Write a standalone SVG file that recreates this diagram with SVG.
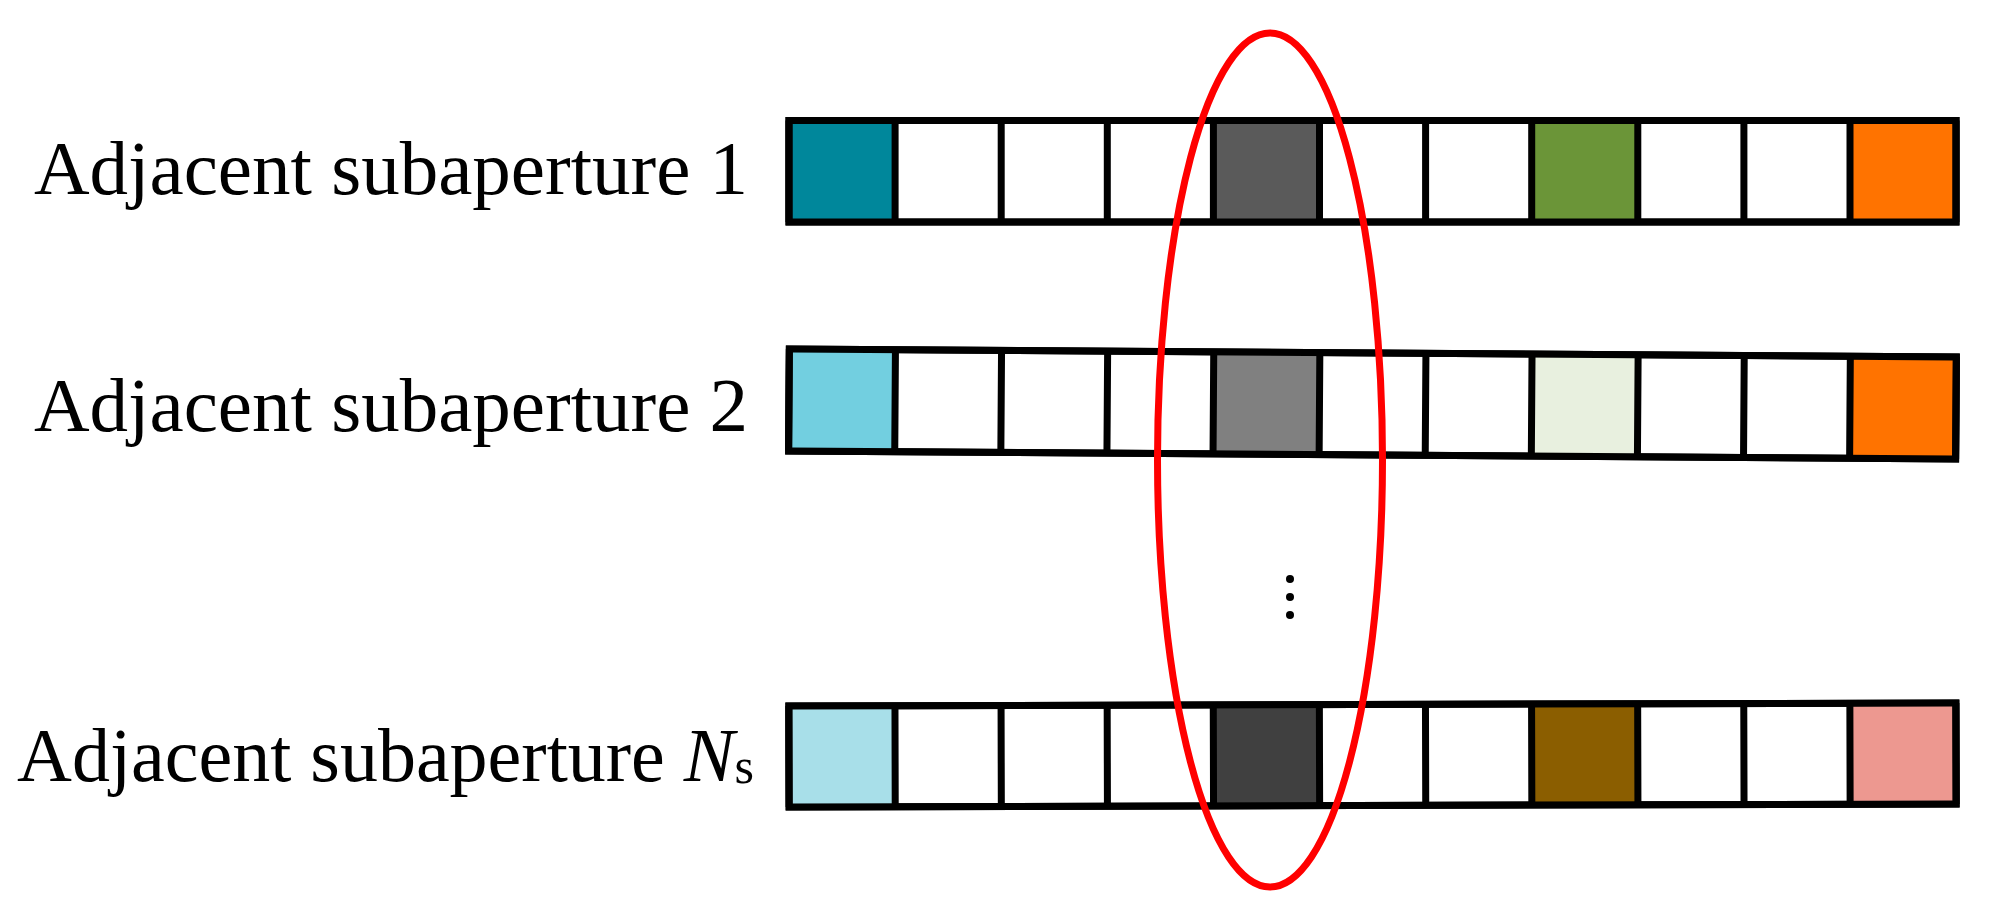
<svg xmlns="http://www.w3.org/2000/svg" width="2001" height="917" viewBox="0 0 2001 917">
<style>
.lbl{font-family:"Liberation Serif","Times New Roman",serif;font-size:77px;fill:#000}
.lbl3{font-family:"Liberation Serif","Times New Roman",serif;font-size:76px;fill:#000}
.frame{fill:#fff;stroke:#000;stroke-width:7}
.div{stroke:#000;stroke-width:7}
.ell{fill:none;stroke:#ff0000;stroke-width:7}
</style>
<rect width="2001" height="917" fill="#fff"/>
<g id="row1">
  <text class="lbl" x="34" y="194">Adjacent subaperture 1</text>
  <rect class="frame" x="789" y="120.5" width="1167" height="101.5"/>
  <rect x="789" y="120.5" width="106.1" height="101.5" fill="#00879b"/>
  <rect x="1213.4" y="120.5" width="106.1" height="101.5" fill="#5a5a5a"/>
  <rect x="1531.7" y="120.5" width="106.1" height="101.5" fill="#6b9538"/>
  <rect x="1850" y="120.5" width="106.1" height="101.5" fill="#ff7300"/>
  <path class="div" fill="none" d="M789 120.5V222M895.1 120.5V222M1001.2 120.5V222M1107.3 120.5V222M1213.4 120.5V222M1319.5 120.5V222M1425.6 120.5V222M1531.7 120.5V222M1637.8 120.5V222M1743.9 120.5V222M1850 120.5V222M1956 120.5V222"/>
  <rect x="789" y="120.5" width="1167" height="101.5" fill="none" stroke="#000" stroke-width="7"/>
</g>
<g id="row2">
  <text class="lbl" x="34" y="431">Adjacent subaperture 2</text>
  <g transform="rotate(0.39 789 400)">
    <rect class="frame" x="789" y="349" width="1167" height="102"/>
    <rect x="789" y="349" width="106.1" height="102" fill="#72cfe0"/>
    <rect x="1213.4" y="349" width="106.1" height="102" fill="#808080"/>
    <rect x="1531.7" y="349" width="106.1" height="102" fill="#e8f0df"/>
    <rect x="1850" y="349" width="106.1" height="102" fill="#ff7300"/>
    <path class="div" fill="none" d="M789 349V451M895.1 349V451M1001.2 349V451M1107.3 349V451M1213.4 349V451M1319.5 349V451M1425.6 349V451M1531.7 349V451M1637.8 349V451M1743.9 349V451M1850 349V451M1956 349V451"/>
    <rect x="789" y="349" width="1167" height="102" fill="none" stroke="#000" stroke-width="7"/>
  </g>
</g>
<g id="row3">
  <text class="lbl3" x="17" y="781">Adjacent subaperture <tspan font-style="italic">N</tspan><tspan style="font-size:50px" dy="2">s</tspan></text>
  <g transform="rotate(-0.15 789 756)">
    <rect class="frame" x="789" y="706" width="1167" height="101"/>
    <rect x="789" y="706" width="106.1" height="101" fill="#a8dfe9"/>
    <rect x="1213.4" y="706" width="106.1" height="101" fill="#404040"/>
    <rect x="1531.7" y="706" width="106.1" height="101" fill="#8b5e00"/>
    <rect x="1850" y="706" width="106.1" height="101" fill="#ed9890"/>
    <path class="div" fill="none" d="M789 706V807M895.1 706V807M1001.2 706V807M1107.3 706V807M1213.4 706V807M1319.5 706V807M1425.6 706V807M1531.7 706V807M1637.8 706V807M1743.9 706V807M1850 706V807M1956 706V807"/>
    <rect x="789" y="706" width="1167" height="101" fill="none" stroke="#000" stroke-width="7"/>
  </g>
</g>
<g id="dots" fill="#000">
  <circle cx="1290" cy="579" r="4"/>
  <circle cx="1290" cy="597" r="4"/>
  <circle cx="1290" cy="615" r="4"/>
</g>
<g id="selection">
  <ellipse class="ell" cx="1270" cy="460" rx="112.5" ry="427"/>
</g>
</svg>
